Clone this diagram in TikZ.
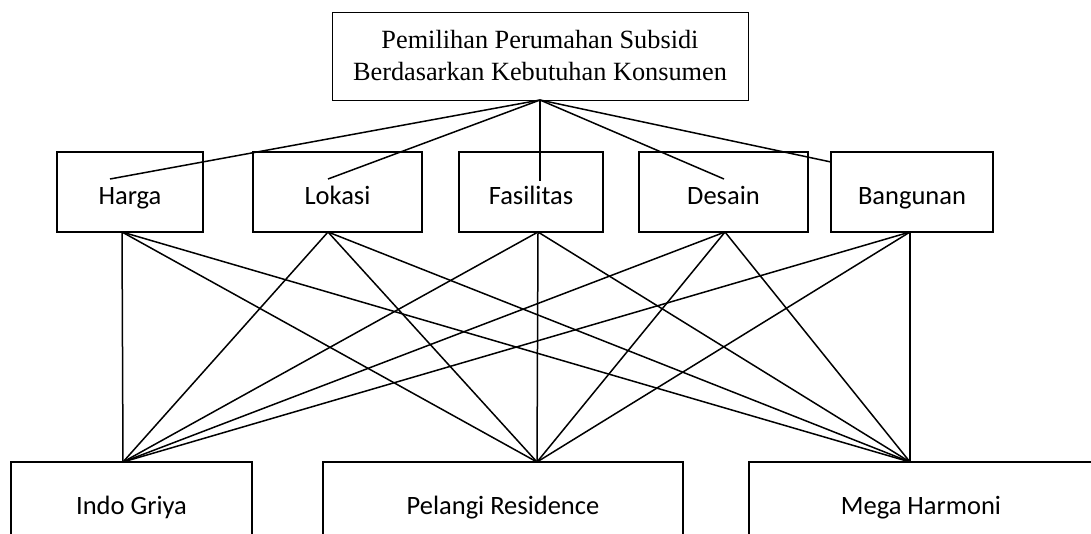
\documentclass[tikz,border=0pt]{standalone}
\usepackage{fontspec}
\setmainfont{Carlito}
\newfontfamily\timesfont{Liberation Serif}
\begin{document}
\begin{tikzpicture}[x=1pt,y=-1pt,
  box/.style={draw,line width=1.6pt,inner sep=0pt,font=\fontsize{26.5}{30}\selectfont},
  critbox/.style={box,minimum height=80pt,text height=24pt,text depth=0pt},
  altbox/.style={box,minimum height=90pt,text height=20pt,text depth=6pt},
  topbox/.style={draw,line width=1pt,inner sep=0pt,align=center,font=\timesfont\fontsize{26.3}{32}\selectfont},
  link/.style={line width=1.5pt}]
\useasboundingbox (0,0) rectangle (1091,533);
% goal
\node[topbox,minimum width=416pt,minimum height=88pt] (goal) at (540,56) {Pemilihan Perumahan Subsidi\\Berdasarkan Kebutuhan Konsumen};
% criteria
\node[critbox,minimum width=146pt] (harga) at (130,192) {Harga};
\node[critbox,minimum width=169pt] (lokasi) at (337.5,192) {Lokasi};
\node[critbox,minimum width=144pt] (fasilitas) at (531,192) {Fasilitas};
\node[critbox,minimum width=169pt] (desain) at (723.5,192) {Desain};
\node[critbox,minimum width=162pt] (bangunan) at (912,192) {Bangunan};
% alternatives
\node[altbox,minimum width=241pt] (indo) at (131.5,507) {Indo Griya};
\node[altbox,minimum width=360pt] (pelangi) at (503,507) {Pelangi Residence};
\node[altbox,minimum width=344pt] (mega) at (921,507) {Mega Harmoni};
% connection points
\coordinate (g0) at (540,100);
\coordinate (hT) at (110,179);
\coordinate (lT) at (328,179);
\coordinate (fT) at (540,181);
\coordinate (dT) at (724,179);
\coordinate (bT) at (831,162);
\coordinate (hB) at (122,232);
\coordinate (lB) at (328,232);
\coordinate (fB) at (538,232);
\coordinate (dB) at (725,232);
\coordinate (bB) at (910,232);
\coordinate (iT) at (123,462);
\coordinate (pT) at (537,462);
\coordinate (mT) at (910,462);
% goal to criteria
\foreach \c in {hT,lT,fT,dT,bT} \draw[link] (g0) -- (\c);
% criteria to alternatives
\foreach \c in {hB,lB,fB,dB,bB}
  \foreach \a in {iT,pT,mT}
    \draw[link] (\c) -- (\a);
\end{tikzpicture}
\end{document}
